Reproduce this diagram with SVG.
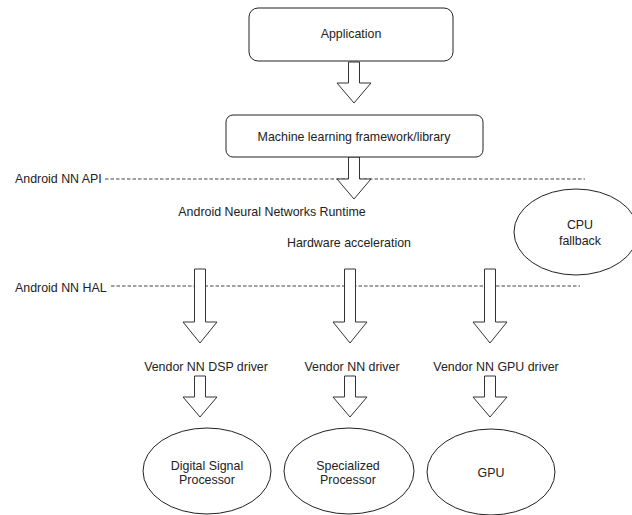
<svg xmlns="http://www.w3.org/2000/svg" width="632" height="515" viewBox="0 0 632 515">
<style>
text{font-family:"Liberation Sans",Arial,sans-serif;font-size:12.4px;fill:#222;}
.c{text-anchor:middle;}
.box{fill:#fff;stroke:#222;stroke-width:1;}
.arr{fill:#fff;stroke:#333;stroke-width:1;stroke-linejoin:miter;}
.dash{stroke:#444;stroke-width:1;stroke-dasharray:3.5 2;fill:none;}
</style>
<defs>
<path id="longArrow" d="M-5.5,0 H5.5 V53 H17 L0,74 L-17,53 H-5.5 Z"/>
<path id="shortArrow" d="M-5.5,0 H5.5 V21 H17 L0,41 L-17,21 H-5.5 Z"/>
</defs>
<rect width="632" height="515" fill="#fff"/>
<g id="layers">
<line class="dash" x1="105" y1="179" x2="585" y2="179"/>
<text x="15" y="183">Android NN API</text>
<line class="dash" x1="111" y1="286" x2="580" y2="286"/>
<text x="15" y="292">Android NN HAL</text>
</g>
<g id="connectors">
<use href="#shortArrow" class="arr" x="354" y="62"/>
<path class="arr" d="M348.5,157 H359.5 V179 H371 L354,199 L337,179 H348.5 Z"/>
<use href="#longArrow" class="arr" x="200" y="269"/>
<use href="#longArrow" class="arr" x="350" y="269"/>
<use href="#longArrow" class="arr" x="490" y="269"/>
<use href="#shortArrow" class="arr" x="200" y="376"/>
<use href="#shortArrow" class="arr" x="350" y="376"/>
<use href="#shortArrow" class="arr" x="490" y="376"/>
</g>
<g id="application">
<rect class="box" x="249" y="8" width="204" height="53" rx="9"/>
<text class="c" x="351" y="38">Application</text>
</g>
<g id="ml-framework">
<rect class="box" x="226" y="115" width="257" height="42" rx="7"/>
<text class="c" x="354" y="141">Machine learning framework/library</text>
</g>
<g id="nn-runtime">
<text class="c" x="272" y="216">Android Neural Networks Runtime</text>
</g>
<g id="hw-accel">
<text class="c" x="349" y="247">Hardware acceleration</text>
</g>
<g id="cpu-fallback">
<ellipse class="box" cx="576" cy="232" rx="62" ry="43"/>
<text class="c" x="580" y="229">CPU</text>
<text class="c" x="580" y="245">fallback</text>
</g>
<g id="dsp-driver">
<text class="c" x="206" y="371">Vendor NN DSP driver</text>
</g>
<g id="nn-driver">
<text class="c" x="352" y="371">Vendor NN driver</text>
</g>
<g id="gpu-driver">
<text class="c" x="496" y="371">Vendor NN GPU driver</text>
</g>
<g id="dsp">
<ellipse class="box" cx="207" cy="471" rx="64" ry="43"/>
<text class="c" x="207" y="470">Digital Signal</text>
<text class="c" x="207" y="484">Processor</text>
</g>
<g id="specialized">
<ellipse class="box" cx="349" cy="471" rx="65" ry="43"/>
<text class="c" x="348" y="470">Specialized</text>
<text class="c" x="348" y="484">Processor</text>
</g>
<g id="gpu">
<ellipse class="box" cx="491" cy="472" rx="64" ry="43"/>
<text class="c" x="491" y="477">GPU</text>
</g>
</svg>
